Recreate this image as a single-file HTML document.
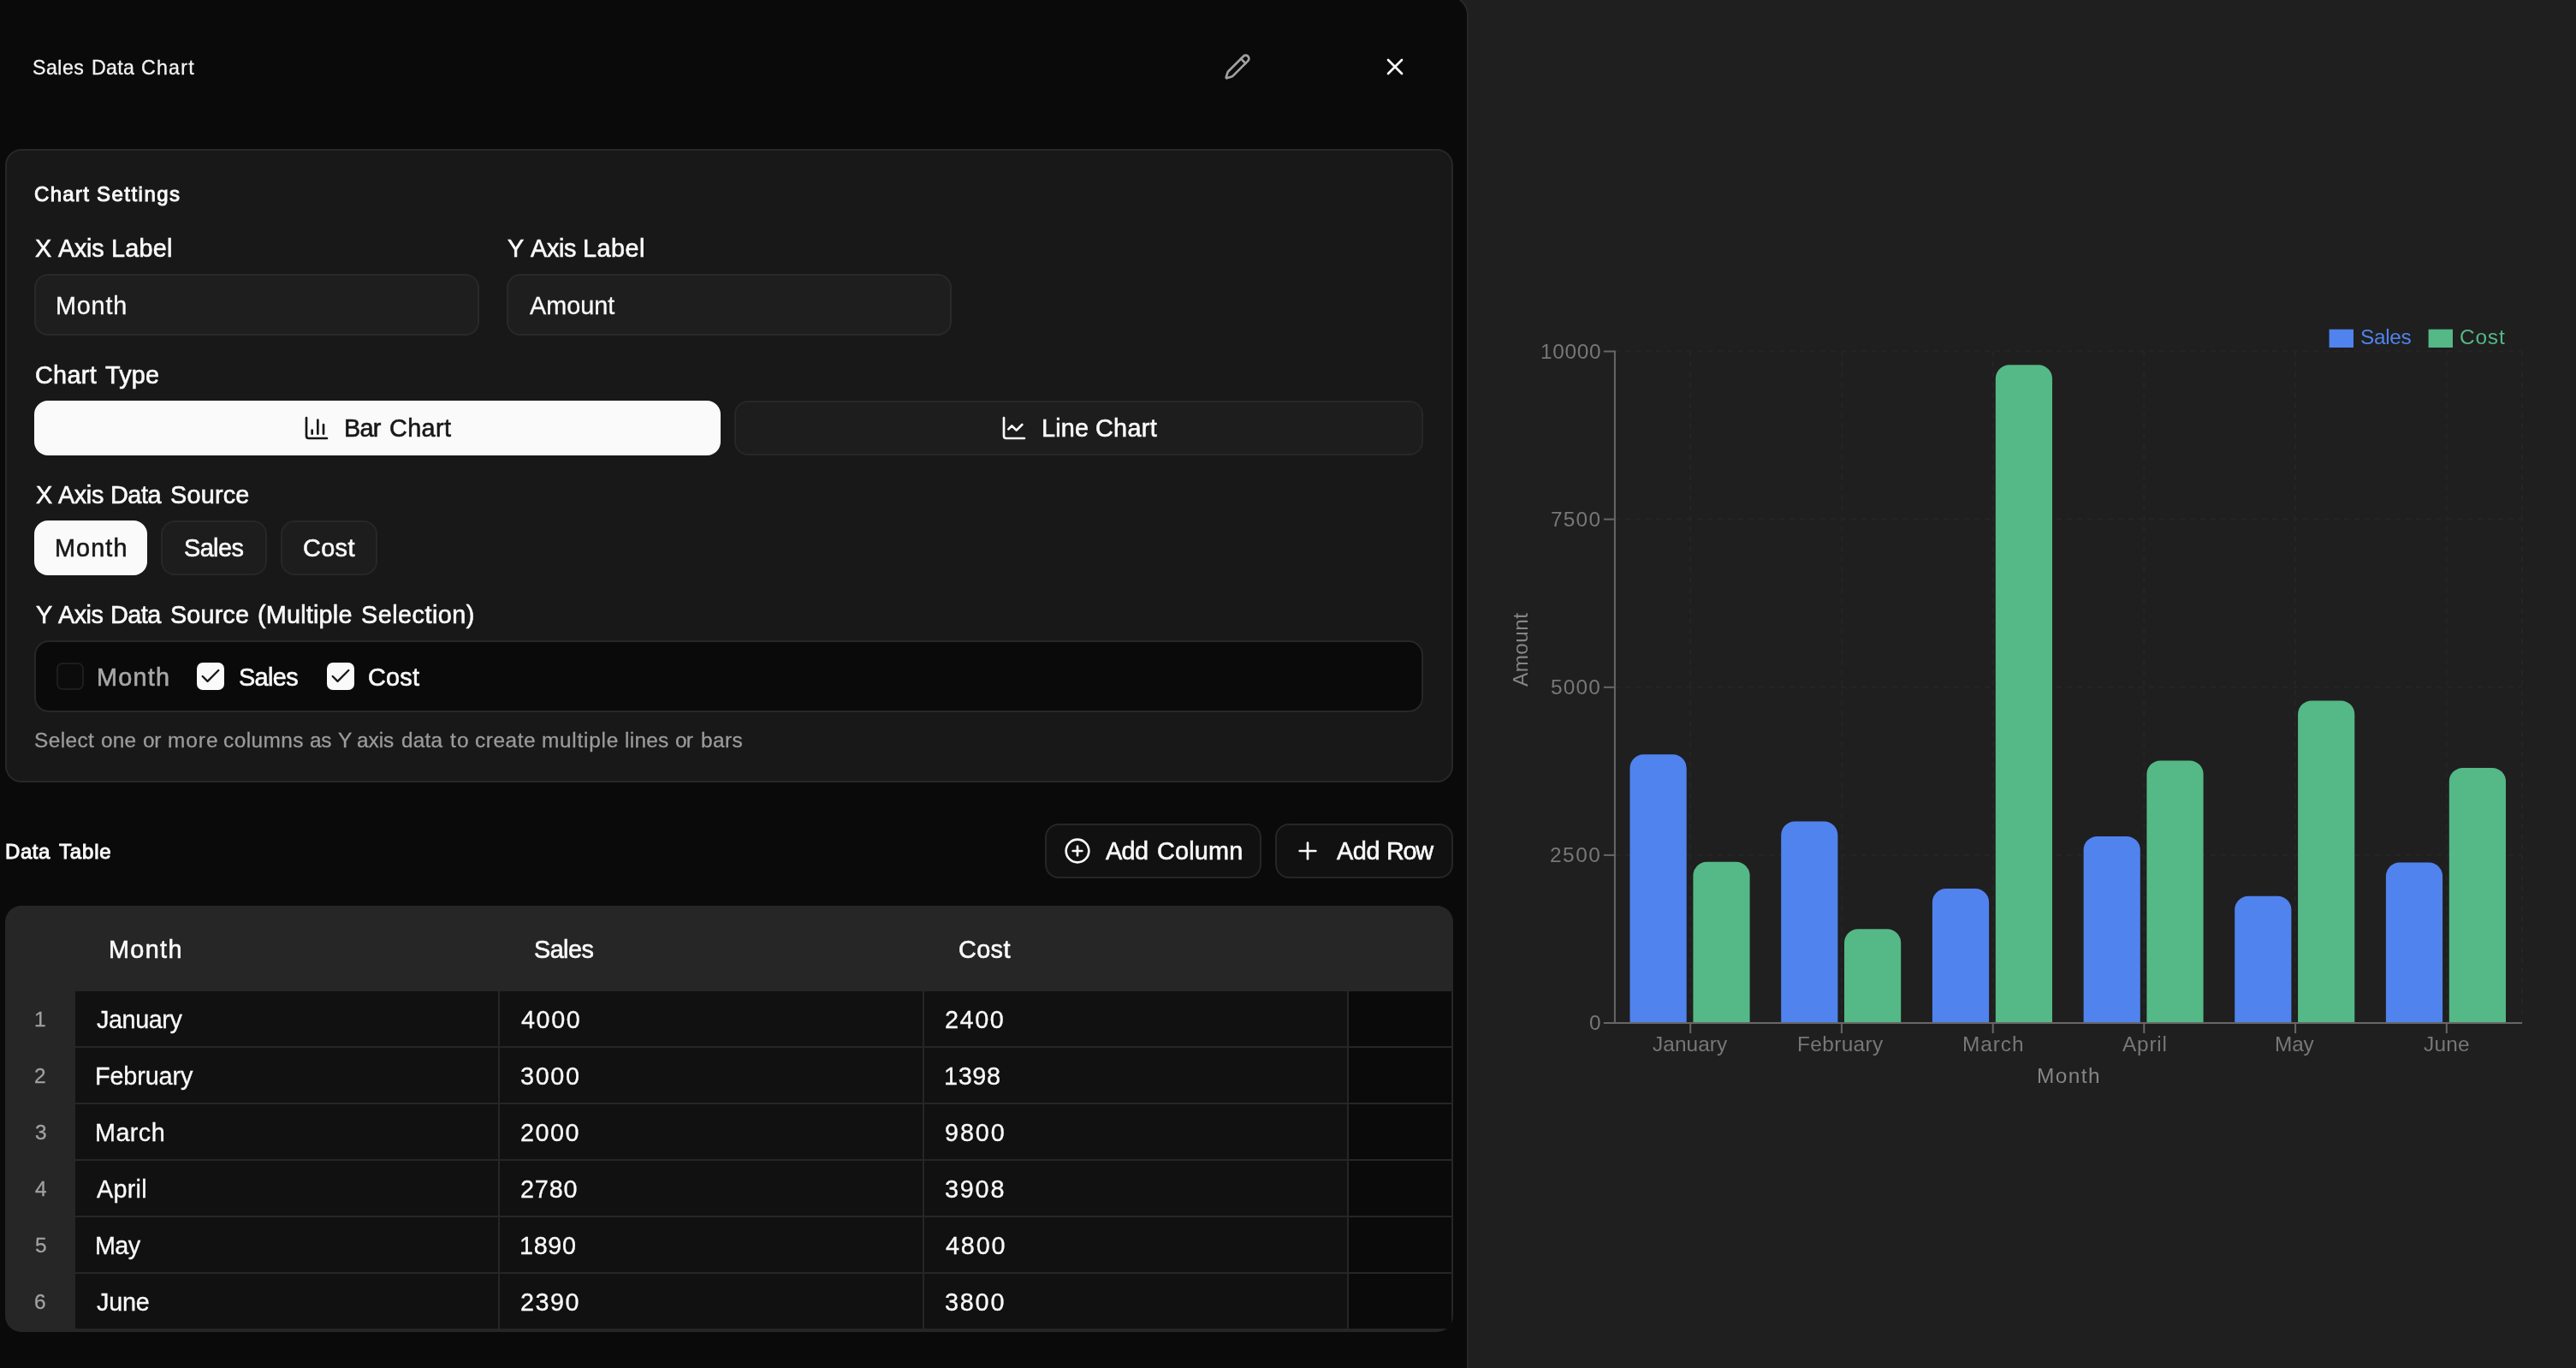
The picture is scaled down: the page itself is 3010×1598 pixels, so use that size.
<!DOCTYPE html>
<html><head><meta charset="utf-8"><title>Sales Data Chart</title>
<style>
html,body{margin:0;padding:0;}
body{width:3010px;height:1598px;overflow:hidden;background:#1f1f1f;position:relative;font-family:"Liberation Sans", sans-serif;}
.b{position:absolute;box-sizing:border-box;}
.i{position:absolute;display:block;overflow:visible;will-change:transform;}
.t{position:absolute;white-space:nowrap;will-change:transform;line-height:40px;font-family:"Liberation Sans", sans-serif;}
</style></head><body>
<div class="b" style="left:-10px;top:-6px;width:1726px;height:1640px;background:#0a0a0a;border:2px solid #282828;border-top-right-radius:24px;"></div>
<div class="b" style="left:6px;top:174px;width:1692px;height:740px;background:#181818;border-radius:19px;border:2px solid #272727;"></div>
<div class="b" style="left:40px;top:320px;width:520px;height:72px;background:#1e1e1e;border-radius:16px;border:2px solid #292929;"></div>
<div class="b" style="left:592px;top:320px;width:520px;height:72px;background:#1e1e1e;border-radius:16px;border:2px solid #292929;"></div>
<div class="b" style="left:40px;top:468px;width:802px;height:64px;background:#fafafa;border-radius:16px;"></div>
<div class="b" style="left:858px;top:468px;width:805px;height:64px;background:#1d1d1d;border-radius:16px;border:2px solid #272727;"></div>
<div class="b" style="left:40px;top:608px;width:132px;height:64px;background:#fafafa;border-radius:16px;"></div>
<div class="b" style="left:188px;top:608px;width:124px;height:64px;background:#1d1d1d;border-radius:16px;border:2px solid #272727;"></div>
<div class="b" style="left:328px;top:608px;width:112.5px;height:64px;background:#1d1d1d;border-radius:16px;border:2px solid #272727;"></div>
<div class="b" style="left:40px;top:748px;width:1623px;height:84px;background:#0a0a0a;border-radius:17px;border:2px solid #272727;"></div>
<div class="b" style="left:66px;top:774px;width:32px;height:32px;background:#0c0c0c;border-radius:7px;border:2px solid #1d1d1d;"></div>
<div class="b" style="left:230px;top:774px;width:32px;height:32px;background:#fafafa;border-radius:7px;"></div>
<div class="b" style="left:382px;top:774px;width:32px;height:32px;background:#fafafa;border-radius:7px;"></div>
<div class="b" style="left:1221px;top:962px;width:253px;height:64px;background:#111111;border-radius:16px;border:2px solid #262626;"></div>
<div class="b" style="left:1490px;top:962px;width:208px;height:64px;background:#111111;border-radius:16px;border:2px solid #262626;"></div>
<div class="b" style="left:6px;top:1058px;width:1692px;height:498px;background:#262626;border-radius:19px;overflow:hidden"><div class="b" style="left:82px;top:100px;width:494px;height:64px;background:#111111;"></div><div class="b" style="left:578px;top:100px;width:494px;height:64px;background:#111111;"></div><div class="b" style="left:1074px;top:100px;width:494px;height:64px;background:#111111;"></div><div class="b" style="left:1570px;top:100px;width:120px;height:64px;background:#0a0a0a;"></div><div class="b" style="left:82px;top:166px;width:494px;height:64px;background:#111111;"></div><div class="b" style="left:578px;top:166px;width:494px;height:64px;background:#111111;"></div><div class="b" style="left:1074px;top:166px;width:494px;height:64px;background:#111111;"></div><div class="b" style="left:1570px;top:166px;width:120px;height:64px;background:#0a0a0a;"></div><div class="b" style="left:82px;top:232px;width:494px;height:64px;background:#111111;"></div><div class="b" style="left:578px;top:232px;width:494px;height:64px;background:#111111;"></div><div class="b" style="left:1074px;top:232px;width:494px;height:64px;background:#111111;"></div><div class="b" style="left:1570px;top:232px;width:120px;height:64px;background:#0a0a0a;"></div><div class="b" style="left:82px;top:298px;width:494px;height:64px;background:#111111;"></div><div class="b" style="left:578px;top:298px;width:494px;height:64px;background:#111111;"></div><div class="b" style="left:1074px;top:298px;width:494px;height:64px;background:#111111;"></div><div class="b" style="left:1570px;top:298px;width:120px;height:64px;background:#0a0a0a;"></div><div class="b" style="left:82px;top:364px;width:494px;height:64px;background:#111111;"></div><div class="b" style="left:578px;top:364px;width:494px;height:64px;background:#111111;"></div><div class="b" style="left:1074px;top:364px;width:494px;height:64px;background:#111111;"></div><div class="b" style="left:1570px;top:364px;width:120px;height:64px;background:#0a0a0a;"></div><div class="b" style="left:82px;top:430px;width:494px;height:64px;background:#111111;"></div><div class="b" style="left:578px;top:430px;width:494px;height:64px;background:#111111;"></div><div class="b" style="left:1074px;top:430px;width:494px;height:64px;background:#111111;"></div><div class="b" style="left:1570px;top:430px;width:120px;height:64px;background:#0a0a0a;"></div></div>
<svg class="i" style="left:1714px;top:0" width="1296" height="1598" viewBox="1714 0 1296 1598">
<line x1="1886.9" x2="2947.1" y1="998.9" y2="998.9" stroke="#252525" stroke-width="2" stroke-dasharray="6 6"/>
<line x1="1886.9" x2="2947.1" y1="802.8" y2="802.8" stroke="#252525" stroke-width="2" stroke-dasharray="6 6"/>
<line x1="1886.9" x2="2947.1" y1="606.6" y2="606.6" stroke="#252525" stroke-width="2" stroke-dasharray="6 6"/>
<line x1="1886.9" x2="2947.1" y1="410.5" y2="410.5" stroke="#252525" stroke-width="2" stroke-dasharray="6 6"/>
<line x1="1975.2" x2="1975.2" y1="410.5" y2="1195.0" stroke="#252525" stroke-width="2" stroke-dasharray="6 6"/>
<line x1="2151.9" x2="2151.9" y1="410.5" y2="1195.0" stroke="#252525" stroke-width="2" stroke-dasharray="6 6"/>
<line x1="2328.7" x2="2328.7" y1="410.5" y2="1195.0" stroke="#252525" stroke-width="2" stroke-dasharray="6 6"/>
<line x1="2505.3" x2="2505.3" y1="410.5" y2="1195.0" stroke="#252525" stroke-width="2" stroke-dasharray="6 6"/>
<line x1="2682.1" x2="2682.1" y1="410.5" y2="1195.0" stroke="#252525" stroke-width="2" stroke-dasharray="6 6"/>
<line x1="2858.8" x2="2858.8" y1="410.5" y2="1195.0" stroke="#252525" stroke-width="2" stroke-dasharray="6 6"/>
<line x1="2947.1" x2="2947.1" y1="410.5" y2="1195.0" stroke="#252525" stroke-width="2" stroke-dasharray="6 6"/>
<path d="M1904.5,1195.0 V897.2 a16,16 0 0 1 16,-16 h34.2 a16,16 0 0 1 16,16 V1195.0 Z" fill="#5083ee"/>
<path d="M1978.4,1195.0 V1022.7 a16,16 0 0 1 16,-16 h34.2 a16,16 0 0 1 16,16 V1195.0 Z" fill="#55b887"/>
<path d="M2081.2,1195.0 V975.6 a16,16 0 0 1 16,-16 h34.2 a16,16 0 0 1 16,16 V1195.0 Z" fill="#5083ee"/>
<path d="M2155.0,1195.0 V1101.3 a16,16 0 0 1 16,-16 h34.2 a16,16 0 0 1 16,16 V1195.0 Z" fill="#55b887"/>
<path d="M2257.9,1195.0 V1054.1 a16,16 0 0 1 16,-16 h34.2 a16,16 0 0 1 16,16 V1195.0 Z" fill="#5083ee"/>
<path d="M2331.8,1195.0 V442.2 a16,16 0 0 1 16,-16 h34.2 a16,16 0 0 1 16,16 V1195.0 Z" fill="#55b887"/>
<path d="M2434.6,1195.0 V992.9 a16,16 0 0 1 16,-16 h34.2 a16,16 0 0 1 16,16 V1195.0 Z" fill="#5083ee"/>
<path d="M2508.4,1195.0 V904.4 a16,16 0 0 1 16,-16 h34.2 a16,16 0 0 1 16,16 V1195.0 Z" fill="#55b887"/>
<path d="M2611.2,1195.0 V1062.7 a16,16 0 0 1 16,-16 h34.2 a16,16 0 0 1 16,16 V1195.0 Z" fill="#5083ee"/>
<path d="M2685.1,1195.0 V834.4 a16,16 0 0 1 16,-16 h34.2 a16,16 0 0 1 16,16 V1195.0 Z" fill="#55b887"/>
<path d="M2787.9,1195.0 V1023.5 a16,16 0 0 1 16,-16 h34.2 a16,16 0 0 1 16,16 V1195.0 Z" fill="#5083ee"/>
<path d="M2861.8,1195.0 V912.9 a16,16 0 0 1 16,-16 h34.2 a16,16 0 0 1 16,16 V1195.0 Z" fill="#55b887"/>
<line x1="1886.9" x2="1886.9" y1="409.5" y2="1196.0" stroke="#676767" stroke-width="2"/>
<line x1="1885.9" x2="2947.1" y1="1195.0" y2="1195.0" stroke="#676767" stroke-width="2"/>
<line x1="1873.9" x2="1886.9" y1="1195.0" y2="1195.0" stroke="#676767" stroke-width="2"/>
<line x1="1873.9" x2="1886.9" y1="998.9" y2="998.9" stroke="#676767" stroke-width="2"/>
<line x1="1873.9" x2="1886.9" y1="802.8" y2="802.8" stroke="#676767" stroke-width="2"/>
<line x1="1873.9" x2="1886.9" y1="606.6" y2="606.6" stroke="#676767" stroke-width="2"/>
<line x1="1873.9" x2="1886.9" y1="410.5" y2="410.5" stroke="#676767" stroke-width="2"/>
<line x1="1975.2" x2="1975.2" y1="1195.0" y2="1207.0" stroke="#676767" stroke-width="2"/>
<line x1="2151.9" x2="2151.9" y1="1195.0" y2="1207.0" stroke="#676767" stroke-width="2"/>
<line x1="2328.7" x2="2328.7" y1="1195.0" y2="1207.0" stroke="#676767" stroke-width="2"/>
<line x1="2505.3" x2="2505.3" y1="1195.0" y2="1207.0" stroke="#676767" stroke-width="2"/>
<line x1="2682.1" x2="2682.1" y1="1195.0" y2="1207.0" stroke="#676767" stroke-width="2"/>
<line x1="2858.8" x2="2858.8" y1="1195.0" y2="1207.0" stroke="#676767" stroke-width="2"/>
<rect x="2721.6" y="384.7" width="28.4" height="21.3" fill="#5083ee"/>
<rect x="2837.6" y="384.7" width="28.4" height="21.3" fill="#55b887"/>
<text transform="translate(1784.5,802) rotate(-90)" font-family='"Liberation Sans", sans-serif' font-size="24.4" fill="#858585" textLength="86" lengthAdjust="spacing">Amount</text>
</svg>
<svg class="i" style="left:1430px;top:62px" width="32" height="32" viewBox="0 0 24 24" fill="none" stroke="#a1a1a1" stroke-width="2" stroke-linecap="round" stroke-linejoin="round"><path d="M21.174 6.812a1 1 0 0 0-3.986-3.987L3.842 16.174a2 2 0 0 0-.5.83l-1.321 4.352a.5.5 0 0 0 .623.622l4.353-1.32a2 2 0 0 0 .83-.497z"/><path d="m15 5 4 4"/></svg><svg class="i" style="left:1614px;top:62px" width="32" height="32" viewBox="0 0 24 24" fill="none" stroke="#fafafa" stroke-width="2" stroke-linecap="round" stroke-linejoin="round"><path d="M18 6 6 18"/><path d="m6 6 12 12"/></svg><svg class="i" style="left:353.6px;top:484px" width="32" height="32" viewBox="0 0 24 24" fill="none" stroke="#171717" stroke-width="2" stroke-linecap="round" stroke-linejoin="round"><path d="M3 3v16a2 2 0 0 0 2 2h16"/><path d="M18 17V9"/><path d="M13 17V5"/><path d="M8 17v-3"/></svg><svg class="i" style="left:1169px;top:484px" width="32" height="32" viewBox="0 0 24 24" fill="none" stroke="#fafafa" stroke-width="2" stroke-linecap="round" stroke-linejoin="round"><path d="M3 3v16a2 2 0 0 0 2 2h16"/><path d="m19 9-5 5-4-4-3 3"/></svg><svg class="i" style="left:1243px;top:978px" width="32" height="32" viewBox="0 0 24 24" fill="none" stroke="#fafafa" stroke-width="2" stroke-linecap="round" stroke-linejoin="round"><circle cx="12" cy="12" r="10"/><path d="M8 12h8"/><path d="M12 8v8"/></svg><svg class="i" style="left:1512px;top:978px" width="32" height="32" viewBox="0 0 24 24" fill="none" stroke="#fafafa" stroke-width="2" stroke-linecap="round" stroke-linejoin="round"><path d="M5 12h14"/><path d="M12 5v14"/></svg><svg class="i" style="left:232px;top:776px" width="28" height="28" viewBox="0 0 24 24" fill="none" stroke="#171717" stroke-width="2" stroke-linecap="round" stroke-linejoin="round"><path d="M20 6 9 17l-5-5"/></svg><svg class="i" style="left:384px;top:776px" width="28" height="28" viewBox="0 0 24 24" fill="none" stroke="#171717" stroke-width="2" stroke-linecap="round" stroke-linejoin="round"><path d="M20 6 9 17l-5-5"/></svg>
<span class="t" style="left:38.15px;top:58.96px;font-size:23.2px;color:#f2f2f2;letter-spacing:0.473px;-webkit-text-stroke:0.3px #f2f2f2;">Sales</span>
<span class="t" style="left:106.55px;top:58.96px;font-size:23.2px;color:#f2f2f2;letter-spacing:0.306px;-webkit-text-stroke:0.3px #f2f2f2;">Data</span>
<span class="t" style="left:164.85px;top:58.96px;font-size:23.2px;color:#f2f2f2;letter-spacing:1.235px;-webkit-text-stroke:0.3px #f2f2f2;">Chart</span>
<span class="t" style="left:40.27px;top:206.68px;font-size:24.0px;color:#fafafa;letter-spacing:1.308px;-webkit-text-stroke:0.95px #fafafa;">Chart</span>
<span class="t" style="left:112.88px;top:206.68px;font-size:24.0px;color:#fafafa;letter-spacing:1.476px;-webkit-text-stroke:0.95px #fafafa;">Settings</span>
<span class="t" style="left:41.05px;top:270.02px;font-size:28.8px;color:#fafafa;-webkit-text-stroke:0.6px #fafafa;">X</span>
<span class="t" style="left:67.90px;top:270.02px;font-size:28.8px;color:#fafafa;letter-spacing:-0.268px;-webkit-text-stroke:0.6px #fafafa;">Axis</span>
<span class="t" style="left:129.50px;top:270.02px;font-size:28.8px;color:#fafafa;letter-spacing:0.235px;-webkit-text-stroke:0.6px #fafafa;">Label</span>
<span class="t" style="left:593.00px;top:270.02px;font-size:28.8px;color:#fafafa;-webkit-text-stroke:0.6px #fafafa;">Y</span>
<span class="t" style="left:619.60px;top:270.02px;font-size:28.8px;color:#fafafa;letter-spacing:-0.301px;-webkit-text-stroke:0.6px #fafafa;">Axis</span>
<span class="t" style="left:680.70px;top:270.02px;font-size:28.8px;color:#fafafa;letter-spacing:0.485px;-webkit-text-stroke:0.6px #fafafa;">Label</span>
<span class="t" style="left:65.15px;top:337.02px;font-size:28.8px;color:#fafafa;letter-spacing:0.795px;-webkit-text-stroke:0.3px #fafafa;">Month</span>
<span class="t" style="left:619.15px;top:337.02px;font-size:28.8px;color:#fafafa;letter-spacing:-0.008px;-webkit-text-stroke:0.3px #fafafa;">Amount</span>
<span class="t" style="left:40.55px;top:418.02px;font-size:28.8px;color:#fafafa;letter-spacing:0.308px;-webkit-text-stroke:0.6px #fafafa;">Chart</span>
<span class="t" style="left:122.80px;top:418.02px;font-size:28.8px;color:#fafafa;letter-spacing:0.162px;-webkit-text-stroke:0.6px #fafafa;">Type</span>
<span class="t" style="left:402.05px;top:480.02px;font-size:28.8px;color:#171717;letter-spacing:-0.786px;-webkit-text-stroke:0.6px #171717;">Bar</span>
<span class="t" style="left:454.80px;top:480.02px;font-size:28.8px;color:#171717;letter-spacing:0.371px;-webkit-text-stroke:0.6px #171717;">Chart</span>
<span class="t" style="left:1217.30px;top:480.02px;font-size:28.8px;color:#fafafa;letter-spacing:0.157px;-webkit-text-stroke:0.6px #fafafa;">Line</span>
<span class="t" style="left:1280.05px;top:480.02px;font-size:28.8px;color:#fafafa;letter-spacing:0.308px;-webkit-text-stroke:0.6px #fafafa;">Chart</span>
<span class="t" style="left:41.55px;top:558.02px;font-size:28.8px;color:#fafafa;-webkit-text-stroke:0.6px #fafafa;">X</span>
<span class="t" style="left:67.80px;top:558.02px;font-size:28.8px;color:#fafafa;letter-spacing:-0.368px;-webkit-text-stroke:0.6px #fafafa;">Axis</span>
<span class="t" style="left:128.70px;top:558.02px;font-size:28.8px;color:#fafafa;letter-spacing:-0.437px;-webkit-text-stroke:0.6px #fafafa;">Data</span>
<span class="t" style="left:198.70px;top:558.02px;font-size:28.8px;color:#fafafa;letter-spacing:0.215px;-webkit-text-stroke:0.6px #fafafa;">Source</span>
<span class="t" style="left:63.80px;top:620.02px;font-size:28.8px;color:#171717;letter-spacing:1.095px;-webkit-text-stroke:0.6px #171717;">Month</span>
<span class="t" style="left:214.80px;top:620.02px;font-size:28.8px;color:#fafafa;letter-spacing:-0.559px;-webkit-text-stroke:0.6px #fafafa;">Sales</span>
<span class="t" style="left:353.80px;top:620.02px;font-size:28.8px;color:#fafafa;letter-spacing:0.397px;-webkit-text-stroke:0.6px #fafafa;">Cost</span>
<span class="t" style="left:41.50px;top:698.02px;font-size:28.8px;color:#fafafa;-webkit-text-stroke:0.6px #fafafa;">Y</span>
<span class="t" style="left:67.70px;top:698.02px;font-size:28.8px;color:#fafafa;letter-spacing:-0.501px;-webkit-text-stroke:0.6px #fafafa;">Axis</span>
<span class="t" style="left:128.60px;top:698.02px;font-size:28.8px;color:#fafafa;letter-spacing:-0.504px;-webkit-text-stroke:0.6px #fafafa;">Data</span>
<span class="t" style="left:198.70px;top:698.02px;font-size:28.8px;color:#fafafa;letter-spacing:0.135px;-webkit-text-stroke:0.6px #fafafa;">Source</span>
<span class="t" style="left:300.50px;top:698.02px;font-size:28.8px;color:#fafafa;letter-spacing:0.200px;-webkit-text-stroke:0.6px #fafafa;">(Multiple</span>
<span class="t" style="left:422.10px;top:698.02px;font-size:28.8px;color:#fafafa;letter-spacing:0.482px;-webkit-text-stroke:0.6px #fafafa;">Selection)</span>
<span class="t" style="left:113.30px;top:770.62px;font-size:28.8px;color:#a8a8a8;letter-spacing:1.220px;-webkit-text-stroke:0.6px #a8a8a8;">Month</span>
<span class="t" style="left:278.80px;top:770.62px;font-size:28.8px;color:#fafafa;letter-spacing:-0.621px;-webkit-text-stroke:0.6px #fafafa;">Sales</span>
<span class="t" style="left:429.80px;top:770.62px;font-size:28.8px;color:#fafafa;letter-spacing:0.230px;-webkit-text-stroke:0.6px #fafafa;">Cost</span>
<span class="t" style="left:40.15px;top:844.80px;font-size:24.4px;color:#9b9b9b;letter-spacing:0.398px;-webkit-text-stroke:0.3px #9b9b9b;">Select</span>
<span class="t" style="left:118.15px;top:844.80px;font-size:24.4px;color:#9b9b9b;letter-spacing:0.135px;-webkit-text-stroke:0.3px #9b9b9b;">one</span>
<span class="t" style="left:166.55px;top:844.80px;font-size:24.4px;color:#9b9b9b;letter-spacing:-0.365px;-webkit-text-stroke:0.3px #9b9b9b;">or</span>
<span class="t" style="left:195.75px;top:844.80px;font-size:24.4px;color:#9b9b9b;letter-spacing:0.965px;-webkit-text-stroke:0.3px #9b9b9b;">more</span>
<span class="t" style="left:260.85px;top:844.80px;font-size:24.4px;color:#9b9b9b;letter-spacing:0.446px;-webkit-text-stroke:0.3px #9b9b9b;">columns</span>
<span class="t" style="left:362.35px;top:844.80px;font-size:24.4px;color:#9b9b9b;letter-spacing:-0.365px;-webkit-text-stroke:0.3px #9b9b9b;">as</span>
<span class="t" style="left:395.05px;top:844.80px;font-size:24.4px;color:#9b9b9b;-webkit-text-stroke:0.3px #9b9b9b;">Y</span>
<span class="t" style="left:417.45px;top:844.80px;font-size:24.4px;color:#9b9b9b;letter-spacing:-0.060px;-webkit-text-stroke:0.3px #9b9b9b;">axis</span>
<span class="t" style="left:469.15px;top:844.80px;font-size:24.4px;color:#9b9b9b;letter-spacing:0.231px;-webkit-text-stroke:0.3px #9b9b9b;">data</span>
<span class="t" style="left:526.15px;top:844.80px;font-size:24.4px;color:#9b9b9b;letter-spacing:1.123px;-webkit-text-stroke:0.3px #9b9b9b;">to</span>
<span class="t" style="left:555.15px;top:844.80px;font-size:24.4px;color:#9b9b9b;letter-spacing:0.555px;-webkit-text-stroke:0.3px #9b9b9b;">create</span>
<span class="t" style="left:633.25px;top:844.80px;font-size:24.4px;color:#9b9b9b;letter-spacing:0.746px;-webkit-text-stroke:0.3px #9b9b9b;">multiple</span>
<span class="t" style="left:730.15px;top:844.80px;font-size:24.4px;color:#9b9b9b;letter-spacing:0.283px;-webkit-text-stroke:0.3px #9b9b9b;">lines</span>
<span class="t" style="left:788.85px;top:844.80px;font-size:24.4px;color:#9b9b9b;letter-spacing:-0.865px;-webkit-text-stroke:0.3px #9b9b9b;">or</span>
<span class="t" style="left:818.95px;top:844.80px;font-size:24.4px;color:#9b9b9b;letter-spacing:0.383px;-webkit-text-stroke:0.3px #9b9b9b;">bars</span>
<span class="t" style="left:6.47px;top:974.93px;font-size:24.0px;color:#fafafa;letter-spacing:0.567px;-webkit-text-stroke:0.95px #fafafa;">Data</span>
<span class="t" style="left:69.22px;top:974.93px;font-size:24.0px;color:#fafafa;letter-spacing:0.818px;-webkit-text-stroke:0.95px #fafafa;">Table</span>
<span class="t" style="left:1292.05px;top:973.77px;font-size:28.8px;color:#fafafa;letter-spacing:-0.661px;-webkit-text-stroke:0.6px #fafafa;">Add</span>
<span class="t" style="left:1351.80px;top:973.77px;font-size:28.8px;color:#fafafa;letter-spacing:0.187px;-webkit-text-stroke:0.6px #fafafa;">Column</span>
<span class="t" style="left:1561.55px;top:973.77px;font-size:28.8px;color:#fafafa;letter-spacing:-0.411px;-webkit-text-stroke:0.6px #fafafa;">Add</span>
<span class="t" style="left:1619.55px;top:973.77px;font-size:28.8px;color:#fafafa;letter-spacing:-1.331px;-webkit-text-stroke:0.6px #fafafa;">Row</span>
<span class="t" style="left:127.05px;top:1088.77px;font-size:28.8px;color:#fafafa;letter-spacing:1.345px;-webkit-text-stroke:0.6px #fafafa;">Month</span>
<span class="t" style="left:624.10px;top:1088.77px;font-size:28.8px;color:#fafafa;letter-spacing:-0.559px;-webkit-text-stroke:0.6px #fafafa;">Sales</span>
<span class="t" style="left:1120.00px;top:1088.77px;font-size:28.8px;color:#fafafa;letter-spacing:0.397px;-webkit-text-stroke:0.6px #fafafa;">Cost</span>
<span class="t" style="left:40.00px;top:1170.80px;font-size:24.4px;color:#a1a1a1;-webkit-text-stroke:0.3px #a1a1a1;">1</span>
<span class="t" style="left:113.15px;top:1170.52px;font-size:28.8px;color:#fafafa;letter-spacing:-0.433px;-webkit-text-stroke:0.3px #fafafa;">January</span>
<span class="t" style="left:609.40px;top:1170.52px;font-size:28.8px;color:#fafafa;letter-spacing:1.585px;-webkit-text-stroke:0.3px #fafafa;">4000</span>
<span class="t" style="left:1104.15px;top:1170.52px;font-size:28.8px;color:#fafafa;letter-spacing:1.551px;-webkit-text-stroke:0.3px #fafafa;">2400</span>
<span class="t" style="left:40.00px;top:1236.80px;font-size:24.4px;color:#a1a1a1;-webkit-text-stroke:0.3px #a1a1a1;">2</span>
<span class="t" style="left:111.15px;top:1236.52px;font-size:28.8px;color:#fafafa;letter-spacing:-0.126px;-webkit-text-stroke:0.3px #fafafa;">February</span>
<span class="t" style="left:608.40px;top:1236.52px;font-size:28.8px;color:#fafafa;letter-spacing:1.651px;-webkit-text-stroke:0.3px #fafafa;">3000</span>
<span class="t" style="left:1103.15px;top:1236.52px;font-size:28.8px;color:#fafafa;letter-spacing:0.618px;-webkit-text-stroke:0.3px #fafafa;">1398</span>
<span class="t" style="left:40.50px;top:1302.80px;font-size:24.4px;color:#a1a1a1;-webkit-text-stroke:0.3px #a1a1a1;">3</span>
<span class="t" style="left:111.15px;top:1302.52px;font-size:28.8px;color:#fafafa;letter-spacing:0.427px;-webkit-text-stroke:0.3px #fafafa;">March</span>
<span class="t" style="left:608.40px;top:1302.52px;font-size:28.8px;color:#fafafa;letter-spacing:1.518px;-webkit-text-stroke:0.3px #fafafa;">2000</span>
<span class="t" style="left:1104.15px;top:1302.52px;font-size:28.8px;color:#fafafa;letter-spacing:1.918px;-webkit-text-stroke:0.3px #fafafa;">9800</span>
<span class="t" style="left:40.50px;top:1368.80px;font-size:24.4px;color:#a1a1a1;-webkit-text-stroke:0.3px #a1a1a1;">4</span>
<span class="t" style="left:113.15px;top:1368.52px;font-size:28.8px;color:#fafafa;letter-spacing:0.247px;-webkit-text-stroke:0.3px #fafafa;">April</span>
<span class="t" style="left:608.40px;top:1368.52px;font-size:28.8px;color:#fafafa;letter-spacing:0.818px;-webkit-text-stroke:0.3px #fafafa;">2780</span>
<span class="t" style="left:1104.15px;top:1368.52px;font-size:28.8px;color:#fafafa;letter-spacing:1.785px;-webkit-text-stroke:0.3px #fafafa;">3908</span>
<span class="t" style="left:40.50px;top:1434.80px;font-size:24.4px;color:#a1a1a1;-webkit-text-stroke:0.3px #a1a1a1;">5</span>
<span class="t" style="left:111.15px;top:1434.52px;font-size:28.8px;color:#fafafa;letter-spacing:-0.652px;-webkit-text-stroke:0.3px #fafafa;">May</span>
<span class="t" style="left:607.40px;top:1434.52px;font-size:28.8px;color:#fafafa;letter-spacing:0.618px;-webkit-text-stroke:0.3px #fafafa;">1890</span>
<span class="t" style="left:1105.15px;top:1434.52px;font-size:28.8px;color:#fafafa;letter-spacing:1.851px;-webkit-text-stroke:0.3px #fafafa;">4800</span>
<span class="t" style="left:40.00px;top:1500.80px;font-size:24.4px;color:#a1a1a1;-webkit-text-stroke:0.3px #a1a1a1;">6</span>
<span class="t" style="left:113.15px;top:1500.52px;font-size:28.8px;color:#fafafa;letter-spacing:-0.243px;-webkit-text-stroke:0.3px #fafafa;">June</span>
<span class="t" style="left:608.40px;top:1500.52px;font-size:28.8px;color:#fafafa;letter-spacing:1.518px;-webkit-text-stroke:0.3px #fafafa;">2390</span>
<span class="t" style="left:1104.15px;top:1500.52px;font-size:28.8px;color:#fafafa;letter-spacing:1.785px;-webkit-text-stroke:0.3px #fafafa;">3800</span>
<span class="t" style="left:1856.50px;top:1175.05px;font-size:24.4px;color:#777777;">0</span>
<span class="t" style="left:1811.20px;top:978.92px;font-size:24.4px;color:#777777;letter-spacing:1.535px;">2500</span>
<span class="t" style="left:1812.20px;top:782.80px;font-size:24.4px;color:#777777;letter-spacing:1.202px;">5000</span>
<span class="t" style="left:1812.10px;top:586.67px;font-size:24.4px;color:#777777;letter-spacing:1.235px;">7500</span>
<span class="t" style="left:1799.50px;top:390.55px;font-size:24.4px;color:#777777;letter-spacing:0.685px;">10000</span>
<span class="t" style="left:1931.25px;top:1199.55px;font-size:24.4px;color:#777777;letter-spacing:0.070px;">January</span>
<span class="t" style="left:2100.45px;top:1199.55px;font-size:24.4px;color:#777777;letter-spacing:0.371px;">February</span>
<span class="t" style="left:2292.65px;top:1199.55px;font-size:24.4px;color:#777777;letter-spacing:0.950px;">March</span>
<span class="t" style="left:2480.10px;top:1199.55px;font-size:24.4px;color:#777777;letter-spacing:0.781px;">April</span>
<span class="t" style="left:2657.80px;top:1199.55px;font-size:24.4px;color:#777777;letter-spacing:-0.191px;">May</span>
<span class="t" style="left:2832.25px;top:1199.55px;font-size:24.4px;color:#777777;letter-spacing:0.225px;">June</span>
<span class="t" style="left:2380.00px;top:1237.05px;font-size:24.4px;color:#858585;letter-spacing:1.444px;">Month</span>
<span class="t" style="left:2757.80px;top:374.35px;font-size:24.4px;color:#5083ee;letter-spacing:-0.329px;">Sales</span>
<span class="t" style="left:2873.70px;top:374.35px;font-size:24.4px;color:#55b887;letter-spacing:0.842px;">Cost</span>
</body></html>
